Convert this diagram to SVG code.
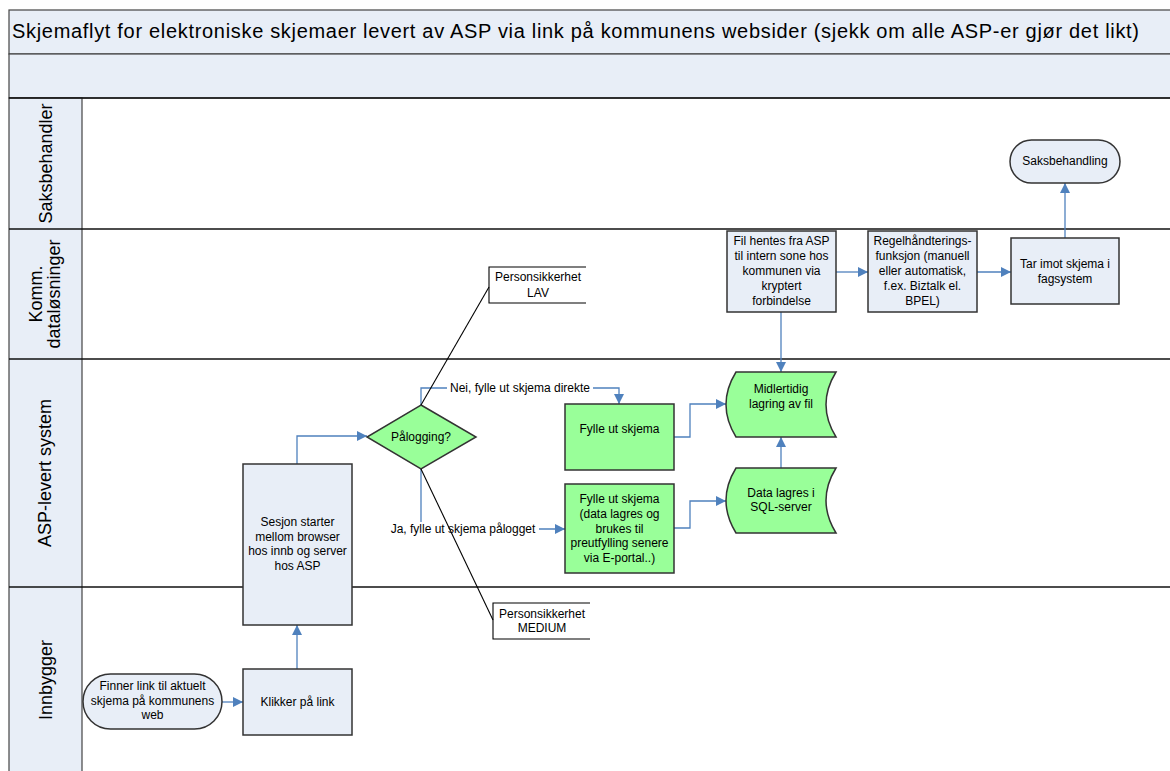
<svg xmlns="http://www.w3.org/2000/svg" width="1170" height="771" viewBox="0 0 1170 771">
<style>
text{font-family:"Liberation Sans",Arial,sans-serif;fill:#000}
.t{font-size:12px;text-anchor:middle}
.lane{font-size:18px;text-anchor:middle}
.box{fill:#E8EEF7;stroke:#333;stroke-width:1.5}
.grn{fill:#99FF99;stroke:#333;stroke-width:1.5}
.con{fill:none;stroke:#4F81BD;stroke-width:1.3}
.ann{fill:none;stroke:#000;stroke-width:1.1}
.sep{stroke:#111;stroke-width:1.5}
</style>
<defs>
<marker id="arr" viewBox="0 0 10 10" refX="10" refY="5" markerWidth="10" markerHeight="10" markerUnits="userSpaceOnUse" orient="auto">
<path d="M0,0 L10,5 L0,10 Z" fill="#4F81BD"/>
</marker>
</defs>
<rect width="1170" height="771" fill="#fff"/>
<g id="frame">
<rect x="9" y="10" width="1170" height="44" fill="#E8EEF7" stroke="#444" stroke-width="1.2"/>
<rect x="9" y="54" width="1170" height="44" fill="#E8EEF7" stroke="#444" stroke-width="1.2"/>
<rect x="9" y="98" width="73" height="680" fill="#E8EEF7" stroke="#444" stroke-width="1.2"/>
<line class="sep" x1="9" y1="98" x2="1170" y2="98"/>
<line class="sep" x1="9" y1="229" x2="1170" y2="229"/>
<line class="sep" x1="9" y1="359" x2="1170" y2="359"/>
<line class="sep" x1="9" y1="587" x2="1170" y2="587"/>
<text x="12" y="38" font-size="20" textLength="1127" lengthAdjust="spacing">Skjemaflyt for elektroniske skjemaer levert av ASP via link på kommunens websider (sjekk om alle ASP-er gjør det likt)</text>
<text class="lane" transform="translate(52,163.5) rotate(-90)">Saksbehandler</text>
<text class="lane" transform="translate(42,294) rotate(-90)">Komm.</text>
<text class="lane" transform="translate(60,294) rotate(-90)">dataløsninger</text>
<text class="lane" transform="translate(51,473) rotate(-90)">ASP-levert system</text>
<text class="lane" transform="translate(52,680) rotate(-90)">Innbygger</text>
</g>
<g id="connectors">
<path class="con" d="M222,702 H243" marker-end="url(#arr)"/>
<path class="con" d="M297,669 V625" marker-end="url(#arr)"/>
<path class="con" d="M297,464 V436 H367" marker-end="url(#arr)"/>
<path class="con" d="M421,405 V388 H619 V404" marker-end="url(#arr)"/>
<path class="con" d="M421,469 V529 H565" marker-end="url(#arr)"/>
<path class="con" d="M674,437 H690 V404 H726" marker-end="url(#arr)"/>
<path class="con" d="M674,528 H690 V501 H726" marker-end="url(#arr)"/>
<path class="con" d="M781,468 V437" marker-end="url(#arr)"/>
<path class="con" d="M781,312 V372" marker-end="url(#arr)"/>
<path class="con" d="M836,272 H868" marker-end="url(#arr)"/>
<path class="con" d="M977,272 H1011" marker-end="url(#arr)"/>
<path class="con" d="M1065,238 V183" marker-end="url(#arr)"/>
<rect x="447" y="381" width="146" height="14" fill="#fff"/>
<text class="t" x="520" y="392">Nei, fylle ut skjema direkte</text>
<rect x="387" y="522" width="152" height="14" fill="#fff"/>
<text class="t" x="463" y="533">Ja, fylle ut skjema pålogget</text>
</g>
<g id="saksbehandling">
<rect class="box" x="1010" y="140" width="110" height="43" rx="21.5"/>
<text class="t" x="1065" y="165">Saksbehandling</text>
</g>
<g id="fil-hentes">
<rect class="box" x="727" y="231" width="109" height="81"/>
<text class="t" x="781.5" y="245">Fil hentes fra ASP</text>
<text class="t" x="781.5" y="260">til intern sone hos</text>
<text class="t" x="781.5" y="275">kommunen via</text>
<text class="t" x="781.5" y="290">kryptert</text>
<text class="t" x="781.5" y="305">forbindelse</text>
</g>
<g id="regel">
<rect class="box" x="868" y="231" width="109" height="81"/>
<text class="t" x="922.5" y="245">Regelhåndterings-</text>
<text class="t" x="922.5" y="260">funksjon (manuell</text>
<text class="t" x="922.5" y="275">eller automatisk,</text>
<text class="t" x="922.5" y="290">f.ex. Biztalk el.</text>
<text class="t" x="922.5" y="305">BPEL)</text>
</g>
<g id="tar-imot">
<rect class="box" x="1011" y="238" width="108" height="66"/>
<text class="t" x="1065" y="268">Tar imot skjema i</text>
<text class="t" x="1065" y="283">fagsystem</text>
</g>
<g id="midlertidig">
<path class="grn" d="M736,372 H836 Q816,404.5 836,437 H736 Q716,404.5 736,372 Z"/>
<text class="t" x="781" y="393">Midlertidig</text>
<text class="t" x="781" y="408">lagring av fil</text>
</g>
<g id="data-lagres">
<path class="grn" d="M736,468 H836 Q816,500.5 836,533 H736 Q716,500.5 736,468 Z"/>
<text class="t" x="781" y="497">Data lagres i</text>
<text class="t" x="781" y="511">SQL-server</text>
</g>
<g id="fylle1">
<rect class="grn" x="565" y="404" width="109" height="66"/>
<text class="t" x="619.5" y="433">Fylle ut skjema</text>
</g>
<g id="fylle2">
<rect class="grn" x="565" y="484" width="109" height="89"/>
<text class="t" x="619.5" y="503">Fylle ut skjema</text>
<text class="t" x="619.5" y="518">(data lagres og</text>
<text class="t" x="619.5" y="533">brukes til</text>
<text class="t" x="619.5" y="547">preutfylling senere</text>
<text class="t" x="619.5" y="562">via E-portal..)</text>
</g>
<g id="palogging">
<polygon class="grn" points="421,405 476,437 421,469 367,437"/>
<text class="t" x="421" y="441">Pålogging?</text>
</g>
<g id="sesjon">
<rect class="box" x="243" y="464" width="109" height="161"/>
<text class="t" x="297.5" y="526">Sesjon starter</text>
<text class="t" x="297.5" y="541">mellom browser</text>
<text class="t" x="297.5" y="555">hos innb og server</text>
<text class="t" x="297.5" y="570">hos ASP</text>
</g>
<g id="klikker">
<rect class="box" x="243" y="669" width="109" height="66"/>
<text class="t" x="297.5" y="706">Klikker på link</text>
</g>
<g id="finner">
<rect class="box" x="83" y="674" width="139" height="55" rx="27.5"/>
<text class="t" x="152.5" y="690">Finner link til aktuelt</text>
<text class="t" x="152.5" y="705">skjema på kommunens</text>
<text class="t" x="152.5" y="719">web</text>
</g>
<g id="ps-lav">
<rect x="489" y="267" width="97" height="36" fill="#fff"/>
<path class="ann" d="M586,267 H489 V303 H586"/>
<line class="ann" x1="421" y1="405" x2="489" y2="287"/>
<text class="t" x="538" y="281">Personsikkerhet</text>
<text class="t" x="538" y="297">LAV</text>
</g>
<g id="ps-medium">
<rect x="493" y="603" width="97" height="36" fill="#fff"/>
<path class="ann" d="M590,603 H493 V639 H590"/>
<line class="ann" x1="421" y1="469" x2="493" y2="620"/>
<text class="t" x="542" y="618">Personsikkerhet</text>
<text class="t" x="542" y="632">MEDIUM</text>
</g>
</svg>
